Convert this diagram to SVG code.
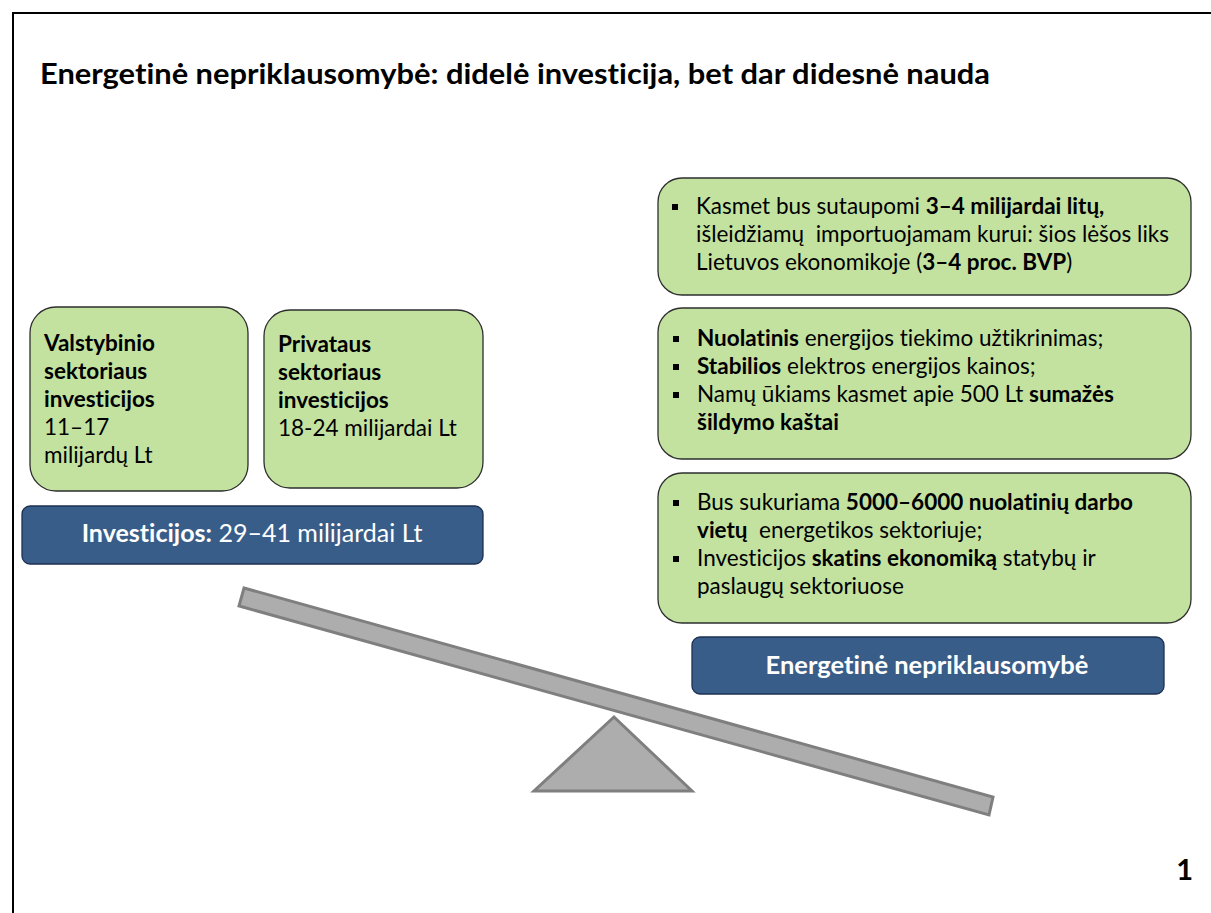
<svg xmlns="http://www.w3.org/2000/svg" width="1211" height="913" viewBox="0 0 1211 913">
<style>
.t{font-family:Lato,"Liberation Sans",sans-serif;fill:#000;font-variant-ligatures:none;white-space:pre}
.b{font-weight:bold}
.body{font-size:22.5px}
.w{fill:#fff}
.green{fill:#C3E2A0;stroke:#2E2E2E;stroke-width:1.3}
.blue{fill:#395D89;stroke:#1C3050;stroke-width:1.3}
.gray{fill:#ADADAD;stroke:#7F7F7F;stroke-width:3;stroke-linejoin:miter}
.bul{fill:#000}
</style>
<rect x="0" y="0" width="1211" height="913" fill="#fff"/>
<rect x="13" y="13" width="1300" height="1000" fill="none" stroke="#000" stroke-width="2"/>
<text class="t b" x="40" y="84" font-size="29" textLength="950" lengthAdjust="spacingAndGlyphs">Energetinė nepriklausomybė: didelė investicija, bet dar didesnė nauda</text>

<g id="scale">
<polygon class="gray" points="614,717 692,791 534,791"/>
<polygon class="gray" points="244,588 993,797 989,815 239,606"/>
</g>

<g id="connectors"></g>

<g id="valstybinio">
<rect class="green" x="30" y="307" width="218" height="184" rx="26"/>
<text class="t body" x="44"><tspan class="b" x="44" y="351">Valstybinio</tspan><tspan class="b" x="44" y="379">sektoriaus</tspan><tspan class="b" x="44" y="407">investicijos</tspan><tspan x="44" y="435">11–17</tspan><tspan x="44" y="463">milijardų Lt</tspan></text>
</g>

<g id="privataus">
<rect class="green" x="264" y="310" width="219" height="178" rx="26"/>
<text class="t body" x="278"><tspan class="b" x="278" y="352">Privataus</tspan><tspan class="b" x="278" y="380">sektoriaus</tspan><tspan class="b" x="278" y="408">investicijos</tspan><tspan x="278" y="436">18-24 milijardai Lt</tspan></text>
</g>

<g id="investicijos">
<rect class="blue" x="22" y="506" width="461" height="58" rx="8"/>
<text class="t w" x="252" y="542" font-size="25" text-anchor="middle"><tspan class="b">Investicijos:</tspan> 29–41 milijardai Lt</text>
</g>

<g id="benefit1">
<rect class="green" x="658" y="178" width="533" height="117" rx="24"/>
<rect class="bul" x="672" y="204" width="6" height="6"/>
<text class="t body" x="696" y="214">Kasmet bus sutaupomi <tspan class="b">3–4 milijardai litų,</tspan></text>
<text class="t body" x="696" y="242">išleidžiamų  importuojamam kurui: šios lėšos liks</text>
<text class="t body" x="696" y="270">Lietuvos ekonomikoje (<tspan class="b">3–4 proc. BVP</tspan>)</text>
</g>

<g id="benefit2">
<rect class="green" x="658" y="308" width="533" height="151" rx="24"/>
<rect class="bul" x="673" y="336" width="6" height="6"/>
<rect class="bul" x="673" y="364" width="6" height="6"/>
<rect class="bul" x="673" y="392" width="6" height="6"/>
<text class="t body" x="697" y="346"><tspan class="b">Nuolatinis</tspan> energijos tiekimo užtikrinimas;</text>
<text class="t body" x="697" y="374"><tspan class="b">Stabilios</tspan> elektros energijos kainos;</text>
<text class="t body" x="697" y="402">Namų ūkiams kasmet apie 500 Lt <tspan class="b">sumažės</tspan></text>
<text class="t body b" x="697" y="430">šildymo kaštai</text>
</g>

<g id="benefit3">
<rect class="green" x="658" y="473" width="533" height="150" rx="24"/>
<rect class="bul" x="673" y="500" width="6" height="6"/>
<rect class="bul" x="673" y="556" width="6" height="6"/>
<text class="t body" x="697" y="510">Bus sukuriama <tspan class="b">5000–6000 nuolatinių darbo</tspan></text>
<text class="t body" x="697" y="538"><tspan class="b">vietų</tspan>  energetikos sektoriuje;</text>
<text class="t body" x="697" y="566">Investicijos <tspan class="b">skatins ekonomiką</tspan> statybų ir</text>
<text class="t body" x="697" y="594">paslaugų sektoriuose</text>
</g>

<g id="energetine">
<rect class="blue" x="692" y="637" width="472" height="57" rx="8"/>
<text class="t b w" x="927" y="674" font-size="25.5" text-anchor="middle">Energetinė nepriklausomybė</text>
</g>

<text class="t b" x="1193" y="880" font-size="29" text-anchor="end">1</text>
</svg>
